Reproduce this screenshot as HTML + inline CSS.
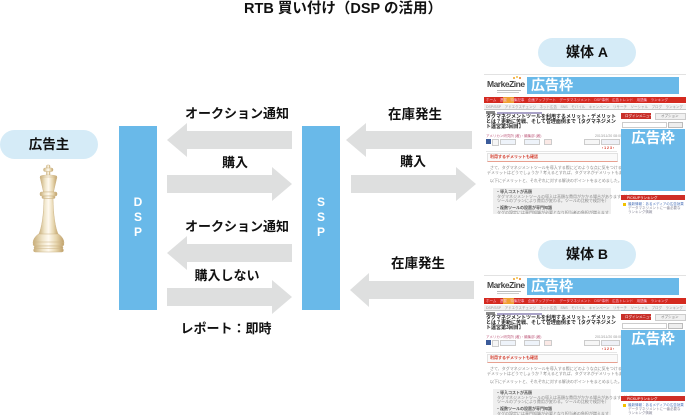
<!DOCTYPE html>
<html lang="ja">
<head>
<meta charset="utf-8">
<style>
  html,body{margin:0;padding:0;background:#fff;}
  body{width:686px;height:415px;position:relative;overflow:hidden;
       font-family:"Liberation Sans","Noto Sans CJK JP",sans-serif;color:#111;}
  .abs{position:absolute;}
  .lbl{position:absolute;font-weight:bold;font-size:13px;line-height:16px;text-align:center;white-space:nowrap;color:#111;}
  .bar{position:absolute;background:#69b9e9;}
  .bartext{position:absolute;left:0;right:0;text-align:center;color:#fff;font-weight:bold;font-size:12px;line-height:15px;}
  .pill{position:absolute;background:#d5ebf7;border-radius:15px;text-align:center;font-weight:bold;color:#111;}
  .shot{position:absolute;left:484px;width:202px;height:139px;overflow:hidden;background:#fff;border-top:1px solid #e2e2e2;}
  .shot div{position:absolute;white-space:nowrap;}
  .t4{font-size:4px;line-height:4.5px;color:#888;}
  .t35{font-size:3.5px;line-height:4px;}
</style>
</head>
<body>

<!-- Title -->
<div class="abs" style="left:0;width:686px;top:1px;text-align:center;font-weight:bold;font-size:14.5px;line-height:16px;">RTB 買い付け（DSP の活用）</div>

<!-- Advertiser pill -->
<div class="pill" style="left:0;top:130px;width:98px;height:29px;line-height:29px;font-size:13.5px;">広告主</div>

<!-- Chess king -->
<svg class="abs" style="left:0;top:0" width="100" height="260" viewBox="0 0 100 260">
  <defs>
    <linearGradient id="kg" x1="0" x2="1" y1="0" y2="0">
      <stop offset="0" stop-color="#c8ad78"/>
      <stop offset="0.3" stop-color="#efe4c8"/>
      <stop offset="0.5" stop-color="#fffaf0"/>
      <stop offset="0.75" stop-color="#e7d6ae"/>
      <stop offset="1" stop-color="#bf9f68"/>
    </linearGradient>
  </defs>
  <g fill="url(#kg)" stroke="#cdb486" stroke-width="0.5">
    <rect x="46.5" y="165" width="3.5" height="11" rx="1"/>
    <rect x="43.5" y="168" width="9.5" height="3.5" rx="1.5"/>
    <ellipse cx="48.5" cy="176.5" rx="8.5" ry="1.5"/>
    <polygon points="40,177 57,177 53.5,192 43.5,192"/>
    <rect x="40" y="192" width="17" height="4" rx="1.5"/>
    <rect x="42" y="196" width="13" height="2.5" rx="1"/>
    <path d="M44,198.5 L53,198.5 Q53.5,224 58.5,235 L38.5,235 Q43.5,224 44,198.5 Z"/>
    <path d="M38.5,234 Q33,238 33,243 L64,243 Q64,238 58.5,234 Z"/>
    <rect x="33" y="242" width="31" height="4" rx="2"/>
    <rect x="34" y="246" width="29" height="3" rx="1.5"/>
    <rect x="33.5" y="248.5" width="30" height="3.5" rx="1.75"/>
  </g>
</svg>

<!-- DSP / SSP bars -->
<div class="bar" style="left:119px;top:126px;width:38px;height:184px;">
  <div class="bartext" style="top:69px;">D<br>S<br>P</div>
</div>
<div class="bar" style="left:302px;top:126px;width:38px;height:184px;">
  <div class="bartext" style="top:69px;">S<br>S<br>P</div>
</div>

<!-- Arrows -->
<svg class="abs" style="left:0;top:0" width="686" height="415" viewBox="0 0 686 415">
  <g fill="#dedfdf">
    <polygon points="167,140 187,123 187,131 292,131 292,149 187,149 187,157"/>
    <polygon points="167,175 272,175 272,167 292,184 272,201 272,193 167,193"/>
    <polygon points="167,253 187,236 187,244 292,244 292,262 187,262 187,270"/>
    <polygon points="167,288 272,288 272,280 292,297 272,314 272,306 167,306"/>
    <polygon points="346,140 366,123 366,131 472,131 472,149 366,149 366,157"/>
    <polygon points="351,175 456,175 456,167 476,184 456,201 456,193 351,193"/>
    <polygon points="350,290 369,273 369,281 474,281 474,299 369,299 369,307"/>
  </g>
</svg>

<!-- Labels left -->
<div class="lbl" style="left:177px;width:120px;top:106px;">オークション通知</div>
<div class="lbl" style="left:195px;width:80px;top:155px;">購入</div>
<div class="lbl" style="left:177px;width:120px;top:219px;">オークション通知</div>
<div class="lbl" style="left:177px;width:100px;top:268px;">購入しない</div>
<div class="lbl" style="left:166px;width:120px;top:321px;">レポート：即時</div>

<!-- Labels right -->
<div class="lbl" style="left:375px;width:80px;top:107px;font-size:13.5px;">在庫発生</div>
<div class="lbl" style="left:373px;width:80px;top:154px;">購入</div>
<div class="lbl" style="left:378px;width:80px;top:256px;font-size:13.5px;">在庫発生</div>

<!-- Media pills -->
<div class="pill" style="left:538px;top:38px;width:98px;height:29px;line-height:29px;font-size:14px;">媒体 A</div>
<div class="pill" style="left:538px;top:240px;width:98px;height:29px;line-height:29px;font-size:14px;">媒体 B</div>

<!-- Screenshot A -->
<div class="shot" style="top:74px;">
  <div style="left:29px;top:2px;width:2px;height:2px;background:#f0a020;border-radius:1px;"></div>
  <div style="left:32px;top:1px;width:2px;height:2px;background:#f5c040;border-radius:1px;"></div>
  <div style="left:35px;top:2px;width:1.5px;height:1.5px;background:#e88020;border-radius:1px;"></div>
  <div style="left:3px;top:5px;font-size:8.5px;line-height:9px;font-weight:bold;color:#444;letter-spacing:-0.5px;">MarkeZine</div>
  <div style="left:13px;top:15px;width:24px;height:1px;background:#bbb;"></div>
  <div style="left:13px;top:17px;width:22px;height:1px;background:#ccc;"></div>
  <div style="left:43px;top:2px;width:152px;height:17px;background:#69b9e9;"></div>
  <div style="left:47px;top:2px;font-size:14px;line-height:17px;font-weight:bold;color:#fff;">広告枠</div>
  <div style="left:0;top:22px;width:202px;height:6px;background:#d42a1f;"></div>
  <div style="left:19px;top:22px;width:11px;height:6px;background:#f0a030;"></div>
  <div class="t35" style="left:2px;top:23px;color:#fbd;">ホーム　連載　特集記事　企画アップデート　データマネジメント　DSP事例　広告トレンド　用語集　ランキング</div>
  <div style="left:0;top:29px;width:202px;height:5px;background:#f1f1f1;border-bottom:1px solid #c8c8c8;"></div>
  <div class="t35" style="left:2px;top:29.5px;color:#999;">DSP/SSP　アドエクスチェンジ　ネット広告　SNS　モバイル　キャンペーン　リサーチ　ソーシャル　ブログ　ランキング</div>
  <div style="left:2px;top:36px;width:9px;height:3px;background:#888;"></div>
  <div style="left:13px;top:36.5px;width:45px;height:2px;background:#a9a2c8;"></div>
  <div style="left:2px;top:40px;width:134px;font-size:5px;line-height:5.2px;font-weight:bold;color:#222;white-space:normal;">タグマネジメントツールを利用するメリット・デメリットとは？更新に苦戦、そして管理面倒まで【タグマネジメント運営第3回目】</div>
  <div class="t35" style="left:2px;top:59px;color:#c06080;">アメリカン研究所 (著)・編集部 (著)</div>
  <div class="t35" style="left:111px;top:59px;color:#999;">2013/11/20 08:00</div>
  <div style="left:2px;top:64px;width:5px;height:5px;background:#3b5b9a;"></div>
  <div style="left:8px;top:64px;width:5px;height:5px;border:0.5px solid #ccc;background:#f6f6f6;"></div>
  <div style="left:16px;top:64px;width:14px;height:4px;border:0.5px solid #ccc;background:#eef3fa;"></div>
  <div style="left:40px;top:64px;width:14px;height:4px;border:0.5px solid #ccc;background:#eef3fa;"></div>
  <div style="left:60px;top:64px;width:6px;height:4px;border:0.5px solid #ccc;background:#fbe9e6;"></div>
  <div style="left:100px;top:64px;width:14px;height:4px;border:0.5px solid #ccc;background:#f6f6f6;"></div>
  <div style="left:117px;top:64px;width:17px;height:4px;border:0.5px solid #ccc;background:#eef0f6;"></div>
  <div class="t35" style="left:118px;top:71px;color:#d43020;font-weight:bold;">‹ 1 2 3 ›</div>
  <div style="left:2px;top:76px;width:131px;height:1px;background:#e6e6e6;"></div>
  <div style="left:3px;top:78px;width:129px;height:7px;background:#fafafa;border:0.5px solid #e2e2e2;border-bottom:1px solid #e8a090;"></div>
  <div class="t4" style="left:6px;top:79.5px;color:#d23a2a;font-weight:bold;">利用するデメリットも確認</div>
  <div class="t4" style="left:6px;top:91px;">さて、タグマネジメントツールを導入する際にどのような点に気をつけるべきかを確認しましょう。</div>
  <div class="t4" style="left:3px;top:95.5px;">デメリットはどうでしょうか？考えるとすれば、タグマネがデメリットもあります。</div>
  <div class="t4" style="left:6px;top:104px;">以下にデメリットと、それぞれに対する解決のポイントをまとめました。</div>
  <div style="left:9px;top:113px;width:118px;height:30px;background:#efefef;"></div>
  <div class="t4" style="left:12px;top:115px;color:#555;font-weight:bold;">・導入コストが高額</div>
  <div class="t4" style="left:13px;top:119.5px;">タグマネジメントツールの導入は高額な費用がかかる場合があります（年間</div>
  <div class="t4" style="left:13px;top:124px;">ツールのプランにより費用が変わる。ツールの比較で検討を）</div>
  <div class="t4" style="left:12px;top:131px;color:#555;font-weight:bold;">・複数ツールの設置が専門知識</div>
  <div class="t4" style="left:13px;top:135.5px;">タグの設定には専門知識が必要となり担当者の負担が増えます</div>
  <div style="left:137px;top:38px;width:30px;height:6px;background:#c9302a;"></div>
  <div class="t35" style="left:141px;top:39px;color:#fff;">ログインメニュー</div>
  <div style="left:171px;top:38px;width:29px;height:5px;background:#f0f0f0;border:0.5px solid #ccc;"></div>
  <div class="t35" style="left:177px;top:38.5px;color:#777;">オプション</div>
  <div style="left:138px;top:47px;width:43px;height:4px;background:#fff;border:0.5px solid #ccc;"></div>
  <div style="left:184px;top:47px;width:13px;height:4px;background:#eee;border:0.5px solid #bbb;"></div>
  <div style="left:137px;top:54px;width:64px;height:62px;background:#69b9e9;"></div>
  <div style="left:137px;top:56px;width:64px;text-align:center;font-size:14.5px;line-height:16px;font-weight:bold;color:#fff;">広告枠</div>
  <div style="left:137px;top:120px;width:64px;height:5px;background:#cf2e26;"></div>
  <div class="t35" style="left:143px;top:120.5px;color:#fff;">PICKUPランキング</div>
  <div style="left:139px;top:128px;width:3px;height:3px;background:#f2c200;"></div>
  <div class="t35" style="left:144px;top:127px;color:#4a70b8;">最新情報：あるメディアの広告効果</div>
  <div class="t35" style="left:144px;top:131px;color:#889;">データマネジメントに一番必要な</div>
  <div class="t35" style="left:144px;top:135px;color:#889;">ランキング情報</div>
</div>

<!-- Screenshot B -->
<div class="shot" style="top:275px;">
  <div style="left:29px;top:2px;width:2px;height:2px;background:#f0a020;border-radius:1px;"></div>
  <div style="left:32px;top:1px;width:2px;height:2px;background:#f5c040;border-radius:1px;"></div>
  <div style="left:35px;top:2px;width:1.5px;height:1.5px;background:#e88020;border-radius:1px;"></div>
  <div style="left:3px;top:5px;font-size:8.5px;line-height:9px;font-weight:bold;color:#444;letter-spacing:-0.5px;">MarkeZine</div>
  <div style="left:13px;top:15px;width:24px;height:1px;background:#bbb;"></div>
  <div style="left:13px;top:17px;width:22px;height:1px;background:#ccc;"></div>
  <div style="left:43px;top:2px;width:152px;height:17px;background:#69b9e9;"></div>
  <div style="left:47px;top:2px;font-size:14px;line-height:17px;font-weight:bold;color:#fff;">広告枠</div>
  <div style="left:0;top:22px;width:202px;height:6px;background:#d42a1f;"></div>
  <div style="left:19px;top:22px;width:11px;height:6px;background:#f0a030;"></div>
  <div class="t35" style="left:2px;top:23px;color:#fbd;">ホーム　連載　特集記事　企画アップデート　データマネジメント　DSP事例　広告トレンド　用語集　ランキング</div>
  <div style="left:0;top:29px;width:202px;height:5px;background:#f1f1f1;border-bottom:1px solid #c8c8c8;"></div>
  <div class="t35" style="left:2px;top:29.5px;color:#999;">DSP/SSP　アドエクスチェンジ　ネット広告　SNS　モバイル　キャンペーン　リサーチ　ソーシャル　ブログ　ランキング</div>
  <div style="left:2px;top:36px;width:9px;height:3px;background:#888;"></div>
  <div style="left:13px;top:36.5px;width:45px;height:2px;background:#a9a2c8;"></div>
  <div style="left:2px;top:40px;width:134px;font-size:5px;line-height:5.2px;font-weight:bold;color:#222;white-space:normal;">タグマネジメントツールを利用するメリット・デメリットとは？更新に苦戦、そして管理面倒まで【タグマネジメント運営第3回目】</div>
  <div class="t35" style="left:2px;top:59px;color:#c06080;">アメリカン研究所 (著)・編集部 (著)</div>
  <div class="t35" style="left:111px;top:59px;color:#999;">2013/11/20 08:00</div>
  <div style="left:2px;top:64px;width:5px;height:5px;background:#3b5b9a;"></div>
  <div style="left:8px;top:64px;width:5px;height:5px;border:0.5px solid #ccc;background:#f6f6f6;"></div>
  <div style="left:16px;top:64px;width:14px;height:4px;border:0.5px solid #ccc;background:#eef3fa;"></div>
  <div style="left:40px;top:64px;width:14px;height:4px;border:0.5px solid #ccc;background:#eef3fa;"></div>
  <div style="left:60px;top:64px;width:6px;height:4px;border:0.5px solid #ccc;background:#fbe9e6;"></div>
  <div style="left:100px;top:64px;width:14px;height:4px;border:0.5px solid #ccc;background:#f6f6f6;"></div>
  <div style="left:117px;top:64px;width:17px;height:4px;border:0.5px solid #ccc;background:#eef0f6;"></div>
  <div class="t35" style="left:118px;top:71px;color:#d43020;font-weight:bold;">‹ 1 2 3 ›</div>
  <div style="left:2px;top:76px;width:131px;height:1px;background:#e6e6e6;"></div>
  <div style="left:3px;top:78px;width:129px;height:7px;background:#fafafa;border:0.5px solid #e2e2e2;border-bottom:1px solid #e8a090;"></div>
  <div class="t4" style="left:6px;top:79.5px;color:#d23a2a;font-weight:bold;">利用するデメリットも確認</div>
  <div class="t4" style="left:6px;top:91px;">さて、タグマネジメントツールを導入する際にどのような点に気をつけるべきかを確認しましょう。</div>
  <div class="t4" style="left:3px;top:95.5px;">デメリットはどうでしょうか？考えるとすれば、タグマネがデメリットもあります。</div>
  <div class="t4" style="left:6px;top:104px;">以下にデメリットと、それぞれに対する解決のポイントをまとめました。</div>
  <div style="left:9px;top:113px;width:118px;height:30px;background:#efefef;"></div>
  <div class="t4" style="left:12px;top:115px;color:#555;font-weight:bold;">・導入コストが高額</div>
  <div class="t4" style="left:13px;top:119.5px;">タグマネジメントツールの導入は高額な費用がかかる場合があります（年間</div>
  <div class="t4" style="left:13px;top:124px;">ツールのプランにより費用が変わる。ツールの比較で検討を）</div>
  <div class="t4" style="left:12px;top:131px;color:#555;font-weight:bold;">・複数ツールの設置が専門知識</div>
  <div class="t4" style="left:13px;top:135.5px;">タグの設定には専門知識が必要となり担当者の負担が増えます</div>
  <div style="left:137px;top:38px;width:30px;height:6px;background:#c9302a;"></div>
  <div class="t35" style="left:141px;top:39px;color:#fff;">ログインメニュー</div>
  <div style="left:171px;top:38px;width:29px;height:5px;background:#f0f0f0;border:0.5px solid #ccc;"></div>
  <div class="t35" style="left:177px;top:38.5px;color:#777;">オプション</div>
  <div style="left:138px;top:47px;width:43px;height:4px;background:#fff;border:0.5px solid #ccc;"></div>
  <div style="left:184px;top:47px;width:13px;height:4px;background:#eee;border:0.5px solid #bbb;"></div>
  <div style="left:137px;top:54px;width:64px;height:62px;background:#69b9e9;"></div>
  <div style="left:137px;top:56px;width:64px;text-align:center;font-size:14.5px;line-height:16px;font-weight:bold;color:#fff;">広告枠</div>
  <div style="left:137px;top:120px;width:64px;height:5px;background:#cf2e26;"></div>
  <div class="t35" style="left:143px;top:120.5px;color:#fff;">PICKUPランキング</div>
  <div style="left:139px;top:128px;width:3px;height:3px;background:#f2c200;"></div>
  <div class="t35" style="left:144px;top:127px;color:#4a70b8;">最新情報：あるメディアの広告効果</div>
  <div class="t35" style="left:144px;top:131px;color:#889;">データマネジメントに一番必要な</div>
  <div class="t35" style="left:144px;top:135px;color:#889;">ランキング情報</div>
</div>

</body>
</html>
